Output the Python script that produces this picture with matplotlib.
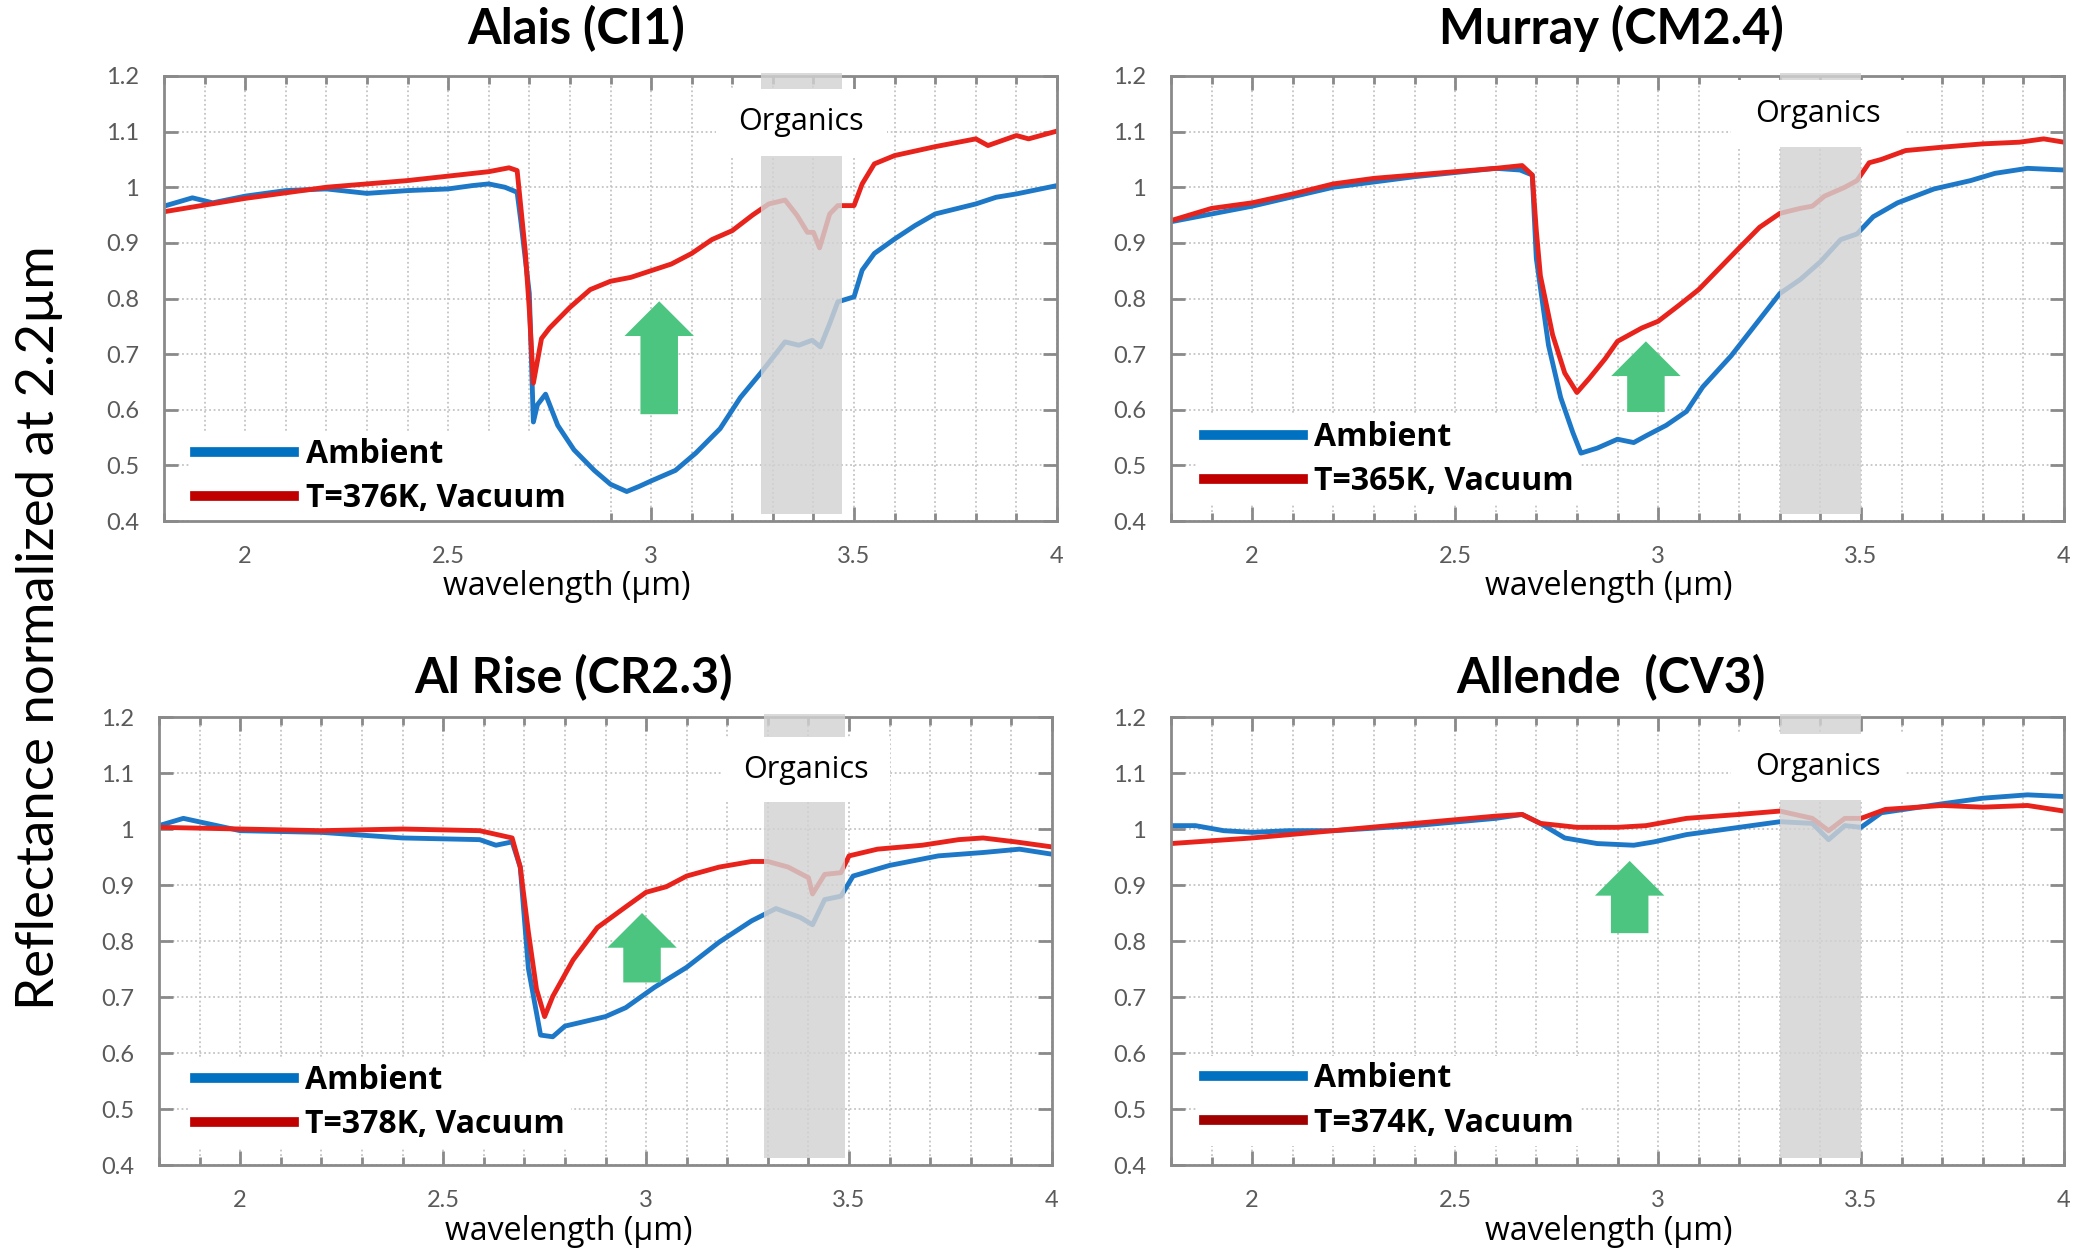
import matplotlib
matplotlib.use("Agg")
import matplotlib.pyplot as plt
import matplotlib.patches as patch
from matplotlib.ticker import MultipleLocator, FuncFormatter

# ---- data ----
titles = ["Alais (CI1)", "Murray (CM2.4)", "Al Rise (CR2.3)", "Allende  (CV3)"]
vac_labels = ["T=376K, Vacuum", "T=365K, Vacuum", "T=378K, Vacuum", "T=374K, Vacuum"]

alais_amb_x = [1.8, 1.87, 1.92, 2.0, 2.1, 2.2, 2.3, 2.4, 2.5, 2.56, 2.6, 2.64, 2.67, 2.68, 2.70, 2.71,
               2.72, 2.74, 2.77, 2.81, 2.86, 2.9, 2.94, 2.97, 3.0, 3.06, 3.11, 3.17, 3.22, 3.27, 3.33,
               3.364, 3.397, 3.417, 3.44, 3.46, 3.5, 3.52, 3.55, 3.6, 3.65, 3.7, 3.75, 3.8, 3.85, 3.9, 4.0]
alais_amb_y = [0.966, 0.981, 0.972, 0.984, 0.994, 0.997, 0.989, 0.994, 0.997, 1.003, 1.006, 1.0, 0.991,
               0.934, 0.809, 0.578, 0.609, 0.628, 0.572, 0.528, 0.491, 0.466, 0.453, 0.462, 0.472, 0.491,
               0.522, 0.566, 0.622, 0.666, 0.722, 0.716, 0.725, 0.713, 0.755, 0.794, 0.803, 0.851, 0.881,
               0.907, 0.931, 0.952, 0.961, 0.970, 0.982, 0.988, 1.003]
alais_vac_x = [1.8, 1.9, 2.0, 2.1, 2.2, 2.3, 2.4, 2.5, 2.6, 2.65, 2.67, 2.69, 2.70, 2.71, 2.73, 2.75, 2.8,
               2.85, 2.9, 2.95, 3.0, 3.05, 3.1, 3.15, 3.2, 3.25, 3.29, 3.33, 3.36, 3.385, 3.40, 3.415,
               3.44, 3.46, 3.5, 3.52, 3.55, 3.6, 3.7, 3.8, 3.83, 3.9, 3.93, 4.0]
alais_vac_y = [0.956, 0.968, 0.98, 0.99, 1.0, 1.006, 1.012, 1.02, 1.028, 1.035, 1.03, 0.885, 0.78, 0.648,
               0.728, 0.747, 0.784, 0.816, 0.831, 0.838, 0.85, 0.862, 0.881, 0.906, 0.922, 0.95, 0.97,
               0.977, 0.949, 0.919, 0.919, 0.891, 0.952, 0.967, 0.967, 1.006, 1.042, 1.057, 1.073, 1.087,
               1.075, 1.093, 1.087, 1.101]

murray_amb_x = [1.8, 2.0, 2.2, 2.4, 2.6, 2.66, 2.69, 2.70, 2.73, 2.76, 2.79, 2.81, 2.85, 2.9, 2.94, 2.97,
                3.02, 3.07, 3.11, 3.18, 3.24, 3.3, 3.35, 3.4, 3.45, 3.49, 3.53, 3.59, 3.68, 3.77, 3.83,
                3.91, 4.0]
murray_amb_y = [0.938, 0.966, 1.0, 1.019, 1.034, 1.031, 1.022, 0.872, 0.716, 0.622, 0.559, 0.522, 0.531,
                0.547, 0.541, 0.553, 0.572, 0.597, 0.641, 0.697, 0.753, 0.809, 0.834, 0.866, 0.906, 0.916,
                0.947, 0.972, 0.997, 1.012, 1.025, 1.034, 1.031]
murray_vac_x = [1.8, 1.9, 2.0, 2.1, 2.2, 2.3, 2.4, 2.5, 2.6, 2.665, 2.69, 2.70, 2.71, 2.74, 2.77, 2.8,
                2.83, 2.87, 2.9, 2.96, 3.0, 3.05, 3.1, 3.2, 3.25, 3.3, 3.35, 3.38, 3.41, 3.46, 3.49, 3.52,
                3.55, 3.61, 3.7, 3.8, 3.89, 3.95, 4.0]
murray_vac_y = [0.94, 0.962, 0.972, 0.988, 1.006, 1.016, 1.022, 1.028, 1.034, 1.039, 1.022, 0.922, 0.841,
                0.735, 0.666, 0.631, 0.656, 0.692, 0.723, 0.747, 0.759, 0.787, 0.816, 0.891, 0.928, 0.953,
                0.962, 0.966, 0.984, 1.0, 1.012, 1.044, 1.05, 1.066, 1.072, 1.078, 1.081, 1.087, 1.081]

alrise_amb_x = [1.8, 1.86, 2.0, 2.2, 2.4, 2.59, 2.63, 2.67, 2.69, 2.71, 2.74, 2.77, 2.8, 2.9, 2.95, 3.02,
                3.1, 3.18, 3.26, 3.32, 3.38, 3.41, 3.44, 3.48, 3.51, 3.6, 3.72, 3.83, 3.92, 4.0]
alrise_amb_y = [1.006, 1.019, 0.997, 0.994, 0.984, 0.981, 0.971, 0.977, 0.932, 0.751, 0.632, 0.629, 0.648,
                0.665, 0.681, 0.717, 0.753, 0.798, 0.836, 0.858, 0.842, 0.829, 0.874, 0.88, 0.916, 0.935,
                0.952, 0.958, 0.964, 0.955]
alrise_vac_x = [1.8, 2.0, 2.2, 2.4, 2.59, 2.67, 2.69, 2.71, 2.73, 2.75, 2.77, 2.82, 2.88, 2.95, 3.0, 3.05,
                3.1, 3.18, 3.26, 3.3, 3.35, 3.4, 3.41, 3.44, 3.48, 3.5, 3.57, 3.68, 3.77, 3.83, 3.91, 4.0]
alrise_vac_y = [1.003, 1.0, 0.997, 1.0, 0.997, 0.984, 0.932, 0.816, 0.714, 0.665, 0.701, 0.766, 0.824,
                0.861, 0.887, 0.897, 0.916, 0.932, 0.942, 0.942, 0.932, 0.913, 0.884, 0.919, 0.922, 0.952,
                0.964, 0.971, 0.981, 0.984, 0.977, 0.968]

allende_amb_x = [1.8, 1.86, 1.93, 2.0, 2.09, 2.2, 2.4, 2.6, 2.665, 2.71, 2.77, 2.85, 2.94, 2.99, 3.07, 3.2,
                 3.3, 3.38, 3.42, 3.46, 3.5, 3.55, 3.7, 3.8, 3.91, 4.0]
allende_amb_y = [1.006, 1.006, 0.997, 0.994, 0.997, 0.997, 1.006, 1.019, 1.026, 1.01, 0.984, 0.974, 0.971,
                 0.977, 0.99, 1.003, 1.013, 1.01, 0.981, 1.006, 1.003, 1.029, 1.045, 1.055, 1.061, 1.058]
allende_vac_x = [1.8, 2.0, 2.2, 2.4, 2.6, 2.665, 2.71, 2.8, 2.9, 2.97, 3.07, 3.2, 3.3, 3.38, 3.42, 3.46,
                 3.5, 3.56, 3.7, 3.8, 3.91, 4.0]
allende_vac_y = [0.974, 0.984, 0.997, 1.01, 1.023, 1.026, 1.01, 1.003, 1.003, 1.006, 1.019, 1.026, 1.032,
                 1.019, 0.997, 1.019, 1.019, 1.035, 1.042, 1.039, 1.042, 1.032]

amb_x = [alais_amb_x, murray_amb_x, alrise_amb_x, allende_amb_x]
amb_y = [alais_amb_y, murray_amb_y, alrise_amb_y, allende_amb_y]
vac_x = [alais_vac_x, murray_vac_x, alrise_vac_x, allende_vac_x]
vac_y = [alais_vac_y, murray_vac_y, alrise_vac_y, allende_vac_y]

# organics band (µm) and the label box (x0, x1, y0, y1)
band_x0 = [3.27, 3.30, 3.29, 3.30]
band_x1 = [3.47, 3.50, 3.49, 3.50]
box_x0 = [3.16, 3.18, 3.19, 3.18]
box_x1 = [3.58, 3.61, 3.60, 3.61]
box_y0 = [1.057, 1.072, 1.048, 1.051]
box_y1 = [1.176, 1.192, 1.164, 1.170]

# green arrows: x position, base, tip
arrow_x = [3.02, 2.97, 2.99, 2.93]
arrow_base = [0.592, 0.596, 0.726, 0.814]
arrow_tip = [0.795, 0.723, 0.85, 0.943]

# ---- layout / style ----
W, H = 2091, 1250
ax_pos = [[164, 76, 1057, 521], [1171, 76, 2064, 521],
          [159, 717, 1052, 1165], [1171, 717, 2064, 1165]]
title_x = [0.461, 0.493, 0.464, 0.493]
title_y = [1.106, 1.106, 1.089, 1.089]
xlabel_x = [0.451, 0.49, 0.459, 0.49]
leg_anchor = [(0.028, 0.100), (0.030, 0.138), (0.033, 0.140), (0.030, 0.143)]
leg_red = ["#C00000", "#C00000", "#C00000", "#A00000"]

BLUE = "#1E78C8"
RED = "#E8231C"
NARROW = ["Lato", "DejaVu Sans"]
SANS = ["Open Sans", "DejaVu Sans"]


def main():
    fig = plt.figure(figsize=(W / 100, H / 100), dpi=100)
    for i in range(4):
        l, t, r, b = ax_pos[i]
        ax = fig.add_axes([l / W, 1 - b / H, (r - l) / W, (b - t) / H])
        ax.set_xlim(1.8, 4.0)
        ax.set_ylim(0.4, 1.2)
        ax.set_axisbelow(True)

        ax.plot(amb_x[i], amb_y[i], color=BLUE, lw=3.5, zorder=2)
        ax.plot(vac_x[i], vac_y[i], color=RED, lw=3.5, zorder=2.1)

        ax.axvspan(band_x0[i], band_x1[i], ymin=0.015, ymax=1.006, color="#D2D2D2",
                   alpha=0.82, lw=0, zorder=3, clip_on=False)
        ax.add_patch(patch.Rectangle((box_x0[i], box_y0[i]), box_x1[i] - box_x0[i],
                                     box_y1[i] - box_y0[i], facecolor="white",
                                     edgecolor="none", zorder=4))
        ax.text((box_x0[i] + box_x1[i]) / 2, (box_y0[i] + box_y1[i]) / 2, "Organics",
                ha="center", va="center", fontsize=22, family=SANS, zorder=5)

        ax.annotate("", xy=(arrow_x[i], arrow_tip[i]), xytext=(arrow_x[i], arrow_base[i]),
                    arrowprops=dict(arrowstyle="simple,head_length=25,head_width=50,tail_width=27",
                                    mutation_scale=1, color="#4CC580", lw=0,
                                    shrinkA=0, shrinkB=0), zorder=5)

        # ticks & grid
        ax.xaxis.set_major_locator(MultipleLocator(0.5))
        ax.xaxis.set_minor_locator(MultipleLocator(0.1))
        ax.yaxis.set_major_locator(MultipleLocator(0.1))
        fmt = FuncFormatter(lambda v, p: f"{v:g}")
        ax.xaxis.set_major_formatter(fmt)
        ax.yaxis.set_major_formatter(fmt)
        ax.tick_params(which="both", direction="in", top=True, right=True,
                       color="#8A8A8A", width=2)
        ax.tick_params(which="major", length=10, pad=18, labelsize=17, labelcolor="#5A5A5A")
        ax.tick_params(which="minor", length=6)
        for lab in ax.get_xticklabels() + ax.get_yticklabels():
            lab.set_family(NARROW)
        ax.grid(which="both", axis="x", color="#C4C4C4", ls=(0, (1, 1.5)), lw=1.3)
        ax.grid(which="major", axis="y", color="#C4C4C4", ls=(0, (1, 1.5)), lw=1.3)
        for s in ax.spines.values():
            s.set_color("#8A8A8A")
            s.set_linewidth(2)

        ax.text(title_x[i], title_y[i], titles[i], transform=ax.transAxes, ha="center",
                va="center", fontsize=35, fontweight="bold", family=NARROW)
        ax.text(xlabel_x[i], -0.148, "wavelength (µm)", transform=ax.transAxes,
                ha="center", va="center", fontsize=23, family=SANS)

        h1, = ax.plot([], [], color="#0070C0", lw=7)
        h2, = ax.plot([], [], color=leg_red[i], lw=7)
        leg = ax.legend([h1, h2], ["Ambient", vac_labels[i]], loc="center left",
                        bbox_to_anchor=leg_anchor[i], frameon=True, fancybox=False,
                        edgecolor="none", facecolor="white", framealpha=1,
                        handlelength=3.1, handletextpad=0.35, labelspacing=0.35,
                        borderpad=0.2, borderaxespad=0,
                        prop=dict(family=SANS, weight="bold", size=23))
        # white box hides the grid but stays under the spectra
        leg.set_zorder(1.5)

    fig.text(0.019, 0.498, "Reflectance normalized at 2.2µm", rotation=90, ha="center",
             va="center", fontsize=38, family=NARROW)
    fig.savefig("out.png", dpi=100)
    plt.close(fig)


if __name__ == '__main__': main()
